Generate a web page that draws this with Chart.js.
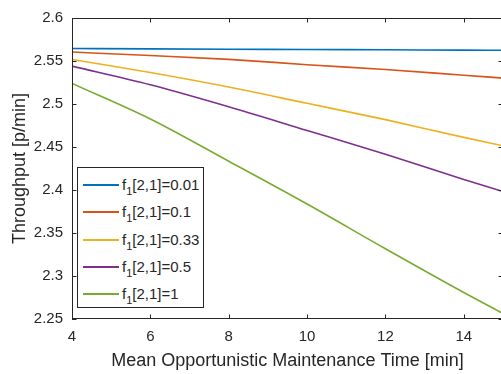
<!DOCTYPE html>
<html><head><meta charset="utf-8">
<script src="https://cdn.jsdelivr.net/npm/chart.js@4"></script>
<style>
html,body{margin:0;padding:0;background:#fff;}
#wrap{position:relative;width:501px;height:374px;overflow:hidden;}
#legend{position:absolute;left:77px;top:167px;width:125px;height:139px;border:1px solid #262626;background:#fff;font-family:"Liberation Sans",Arial,sans-serif;font-size:15px;color:#262626;}
.row{position:absolute;left:0;height:20px;width:125px;}
.sample{position:absolute;left:5px;width:36px;height:2px;top:9px;}
.lab{position:absolute;left:44px;top:0;line-height:20px;white-space:nowrap;}
.lab sub{font-size:11px;vertical-align:-5px;line-height:0;}
</style></head><body>
<div id="wrap"><canvas id="c" width="503" height="374"></canvas><div id="legend"></div></div>
<script>
// Data
const xValues = [4, 6, 8, 10, 12, 14, 15];
const seriesNames = ['0.01', '0.1', '0.33', '0.5', '1'];
const series001 = [2.5646, 2.5641, 2.5637, 2.5634, 2.5630, 2.5627, 2.5625];
const series01  = [2.5604, 2.5564, 2.5519, 2.5457, 2.5401, 2.5334, 2.5301];
const series033 = [2.5518, 2.5366, 2.5197, 2.5008, 2.4818, 2.4612, 2.4514];
const series05  = [2.5441, 2.5224, 2.4968, 2.4692, 2.4415, 2.4122, 2.3982];
const series1   = [2.5240, 2.4826, 2.4335, 2.3837, 2.3317, 2.2808, 2.2564];
const xTicks = [4, 6, 8, 10, 12, 14];
const yTicks = [2.25, 2.3, 2.35, 2.4, 2.45, 2.5, 2.55, 2.6];
const yTickLabels = ['2.25', '2.3', '2.35', '2.4', '2.45', '2.5', '2.55', '2.6'];
const colors = ['#0072BD', '#D95319', '#EDB120', '#7E2F8E', '#77AC30'];
const allSeries = [series001, series01, series033, series05, series1];

const FONT = '"Liberation Sans", Arial, sans-serif';
const INK = '#262626';

const datasets = allSeries.map((s, i) => ({
  label: 'f1[2,1]=' + seriesNames[i],
  data: xValues.map((x, j) => ({x: x, y: s[j]})),
  borderColor: colors[i],
  backgroundColor: colors[i],
  borderWidth: 1.6,
  pointRadius: 0,
  cubicInterpolationMode: 'monotone',
  fill: false
}));

const boxTicks = {
  id: 'boxTicks',
  afterDatasetsDraw(chart) {
    const {ctx, chartArea: a, scales: {x, y}} = chart;
    ctx.save();
    ctx.strokeStyle = INK;
    ctx.lineWidth = 1;
    ctx.beginPath();
    ctx.rect(a.left + 0.5, a.top + 0.5, a.right - a.left - 1, a.bottom - a.top - 1);
    const L = 4.5;
    xTicks.forEach(v => {
      const p = Math.round(x.getPixelForValue(v)) + 0.5;
      ctx.moveTo(p, a.bottom); ctx.lineTo(p, a.bottom - L);
      ctx.moveTo(p, a.top); ctx.lineTo(p, a.top + L);
    });
    yTicks.forEach(v => {
      const p = Math.round(y.getPixelForValue(v)) + 0.5;
      ctx.moveTo(a.left, p); ctx.lineTo(a.left + L, p);
      ctx.moveTo(a.right, p); ctx.lineTo(a.right - L, p);
    });
    ctx.stroke();
    ctx.restore();
  }
};

const chart = new Chart(document.getElementById('c'), {
  type: 'line',
  data: {datasets},
  options: {
    responsive: false,
    animation: false,
    layout: {padding: {top: 12, right: 0, left: 0, bottom: 0}},
    plugins: {legend: {display: false}, tooltip: {enabled: false}},
    scales: {
      x: {
        type: 'linear', min: 4, max: 15,
        afterBuildTicks: s => { s.ticks = xTicks.map(v => ({value: v})); },
        afterFit: s => { s.height = 55; },
        grid: {display: false, drawTicks: false},
        border: {display: false},
        ticks: {color: INK, padding: 9, font: {family: FONT, size: 15}, callback: v => String(v), maxRotation: 0},
        title: {display: true, text: 'Mean Opportunistic Maintenance Time [min]', color: INK, font: {family: FONT, size: 18}, padding: {top: 0, bottom: 2}}
      },
      y: {
        type: 'linear', min: 2.25, max: 2.6,
        afterBuildTicks: s => { s.ticks = yTicks.map(v => ({value: v})); },
        afterFit: s => { s.width = 72; },
        grid: {display: false, drawTicks: false},
        border: {display: false},
        ticks: {color: INK, padding: 9, font: {family: FONT, size: 15}, callback: (v) => yTickLabels[yTicks.findIndex(t => Math.abs(t - v) < 1e-9)]},
        title: {display: true, text: 'Throughput [p/min]', color: INK, font: {family: FONT, size: 18}, padding: {top: 9, bottom: 0}}
      }
    }
  },
  plugins: [boxTicks]
});

// HTML legend built from the series names and colours
const leg = document.getElementById('legend');
seriesNames.forEach((n, i) => {
  const row = document.createElement('div');
  row.className = 'row';
  row.style.top = (7 + i * 27.3) + 'px';
  const sm = document.createElement('div');
  sm.className = 'sample';
  sm.style.background = colors[i];
  const lab = document.createElement('div');
  lab.className = 'lab';
  lab.innerHTML = 'f<sub>1</sub>[2,1]=' + n;
  row.appendChild(sm); row.appendChild(lab);
  leg.appendChild(row);
});
</script>
</body></html>
